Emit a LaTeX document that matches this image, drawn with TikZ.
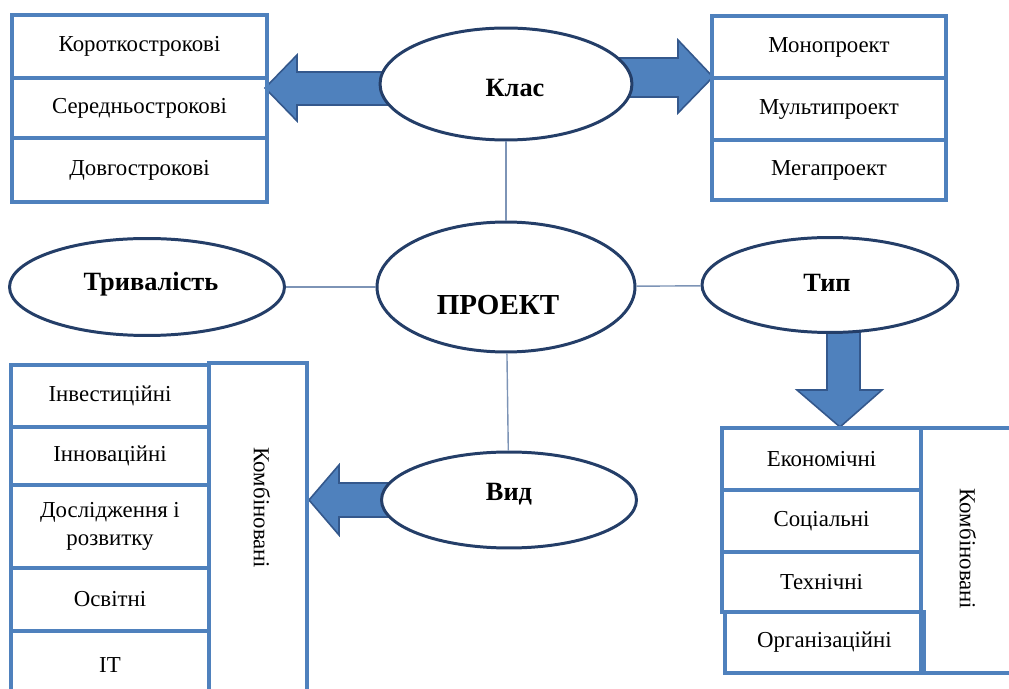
\documentclass[tikz,border=0pt]{standalone}
\usepackage{fontspec}
\setmainfont{Liberation Serif}
\usepackage{tikz}
\usetikzlibrary{shapes.geometric,backgrounds}
\definecolor{boxblue}{RGB}{79,129,189}
\definecolor{ovalblue}{RGB}{36,62,104}
\definecolor{linkgray}{RGB}{125,148,182}
\definecolor{arrowedge}{RGB}{52,88,140}
\tikzstyle{cell} = [draw=boxblue,line width=2pt,rectangle,inner sep=0pt,align=center,font=\fontsize{13}{16}\selectfont]
\tikzstyle{oval} = [draw=ovalblue,fill=white,line width=1.7pt,ellipse,inner sep=0pt,font=\fontsize{15}{18}\selectfont\bfseries]
\tikzstyle{ovaltext} = [font=\fontsize{15}{18}\selectfont\bfseries]
\tikzstyle{link} = [draw=linkgray,line width=0.8pt]
\tikzstyle{fat} = [fill=boxblue,draw=arrowedge,line width=0.9pt,line join=miter]

\begin{document}
\begin{tikzpicture}[x=0.02cm,y=-0.02cm]
\clip (0,0) rectangle (1009,689);

\node (klas) [oval,minimum width=5.04cm,minimum height=2.24cm,label={[ovaltext,shift={(0.18cm,-0.08cm)}]center:Клас}] at (506,84) {};
\node (tryv) [oval,minimum width=5.5cm,minimum height=1.94cm,label={[ovaltext,shift={(0.08cm,0.06cm)}]center:Тривалість}] at (147,287) {};
\node (proekt) [oval,minimum width=5.16cm,minimum height=2.6cm,label={[ovaltext,font=\fontsize{16.5}{18}\selectfont\bfseries,shift={(-0.16cm,-0.36cm)}]center:ПРОЕКТ}] at (506,287) {};
\node (typ) [oval,minimum width=5.12cm,minimum height=1.9cm,label={[ovaltext,shift={(-0.06cm,0.04cm)}]center:Тип}] at (830,285) {};
\node (vyd) [oval,minimum width=5.1cm,minimum height=1.92cm,label={[ovaltext,shift={(0cm,0.12cm)}]center:Вид}] at (509,500) {};

\node (s1) [cell,minimum width=5.1cm,minimum height=1.26cm] at (139.5,46.5) {Короткострокові};
\node (s2) [cell,minimum width=5.1cm,minimum height=1.2cm] at (139.5,108) {Середньострокові};
\node (s3) [cell,minimum width=5.1cm,minimum height=1.28cm] at (139.5,170) {Довгострокові};

\node (m1) [cell,minimum width=4.68cm,minimum height=1.24cm] at (829,47) {Монопроект};
\node (m2) [cell,minimum width=4.68cm,minimum height=1.24cm] at (829,109) {Мультипроект};
\node (m3) [cell,minimum width=4.68cm,minimum height=1.2cm] at (829,170) {Мегапроект};

\node (kvyd) [cell,minimum width=1.96cm,minimum height=6.74cm] at (258,531.5) {};
\node (kvydtext) [font=\fontsize{13}{16}\selectfont,rotate=-90] at (262,508) {Комбіновані};
\node (v1) [cell,minimum width=3.96cm,minimum height=1.24cm] at (110,396) {Інвестиційні};
\node (v2) [cell,minimum width=3.96cm,minimum height=1.16cm] at (110,456) {Інноваційні};
\node (v3) [cell,minimum width=3.96cm,minimum height=1.66cm] at (110,526.5) {Дослідження і\\розвитку};
\node (v4) [cell,minimum width=3.96cm,minimum height=1.26cm] at (110,599.5) {Освітні};
\node (v5) [cell,minimum width=3.96cm,minimum height=1.38cm] at (110,665.5) {IT};

\node (ktyp) [cell,minimum width=2.18cm,minimum height=4.9cm] at (975.5,550.5) {};
\node (ktyptext) [font=\fontsize{13}{16}\selectfont,rotate=-90] at (968,549) {Комбіновані};
\node (t1) [cell,minimum width=3.98cm,minimum height=1.24cm] at (821.5,459) {Економічні};
\node (t2) [cell,minimum width=3.98cm,minimum height=1.24cm] at (821.5,521) {Соціальні};
\node (t3) [cell,minimum width=3.98cm,minimum height=1.2cm] at (821.5,582) {Технічні};
\node (t4) [cell,minimum width=3.98cm,minimum height=1.22cm] at (824.5,642.5) {Організаційні};

\draw [link] (klas) -- (proekt);
\draw [link] (tryv) -- (proekt);
\draw [link] (proekt) -- (typ);
\draw [link] (proekt) -- (vyd);

\begin{scope}[on background layer]
\draw [fat] (420,72) -- (297,72) -- (297,55) -- (265,88) -- (297,121) -- (297,105) -- (420,105) -- cycle;
\draw [fat] (600,58) -- (678,58) -- (678,40) -- (713,77) -- (678,113) -- (678,97) -- (600,97) -- cycle;
\draw [fat] (827,300) -- (827,390) -- (797,390) -- (840,427) -- (882,390) -- (860,390) -- (860,300) -- cycle;
\draw [fat] (420,483) -- (339,483) -- (339,465) -- (309,500) -- (339,535) -- (339,517) -- (420,517) -- cycle;
\end{scope}

\end{tikzpicture}
\end{document}
